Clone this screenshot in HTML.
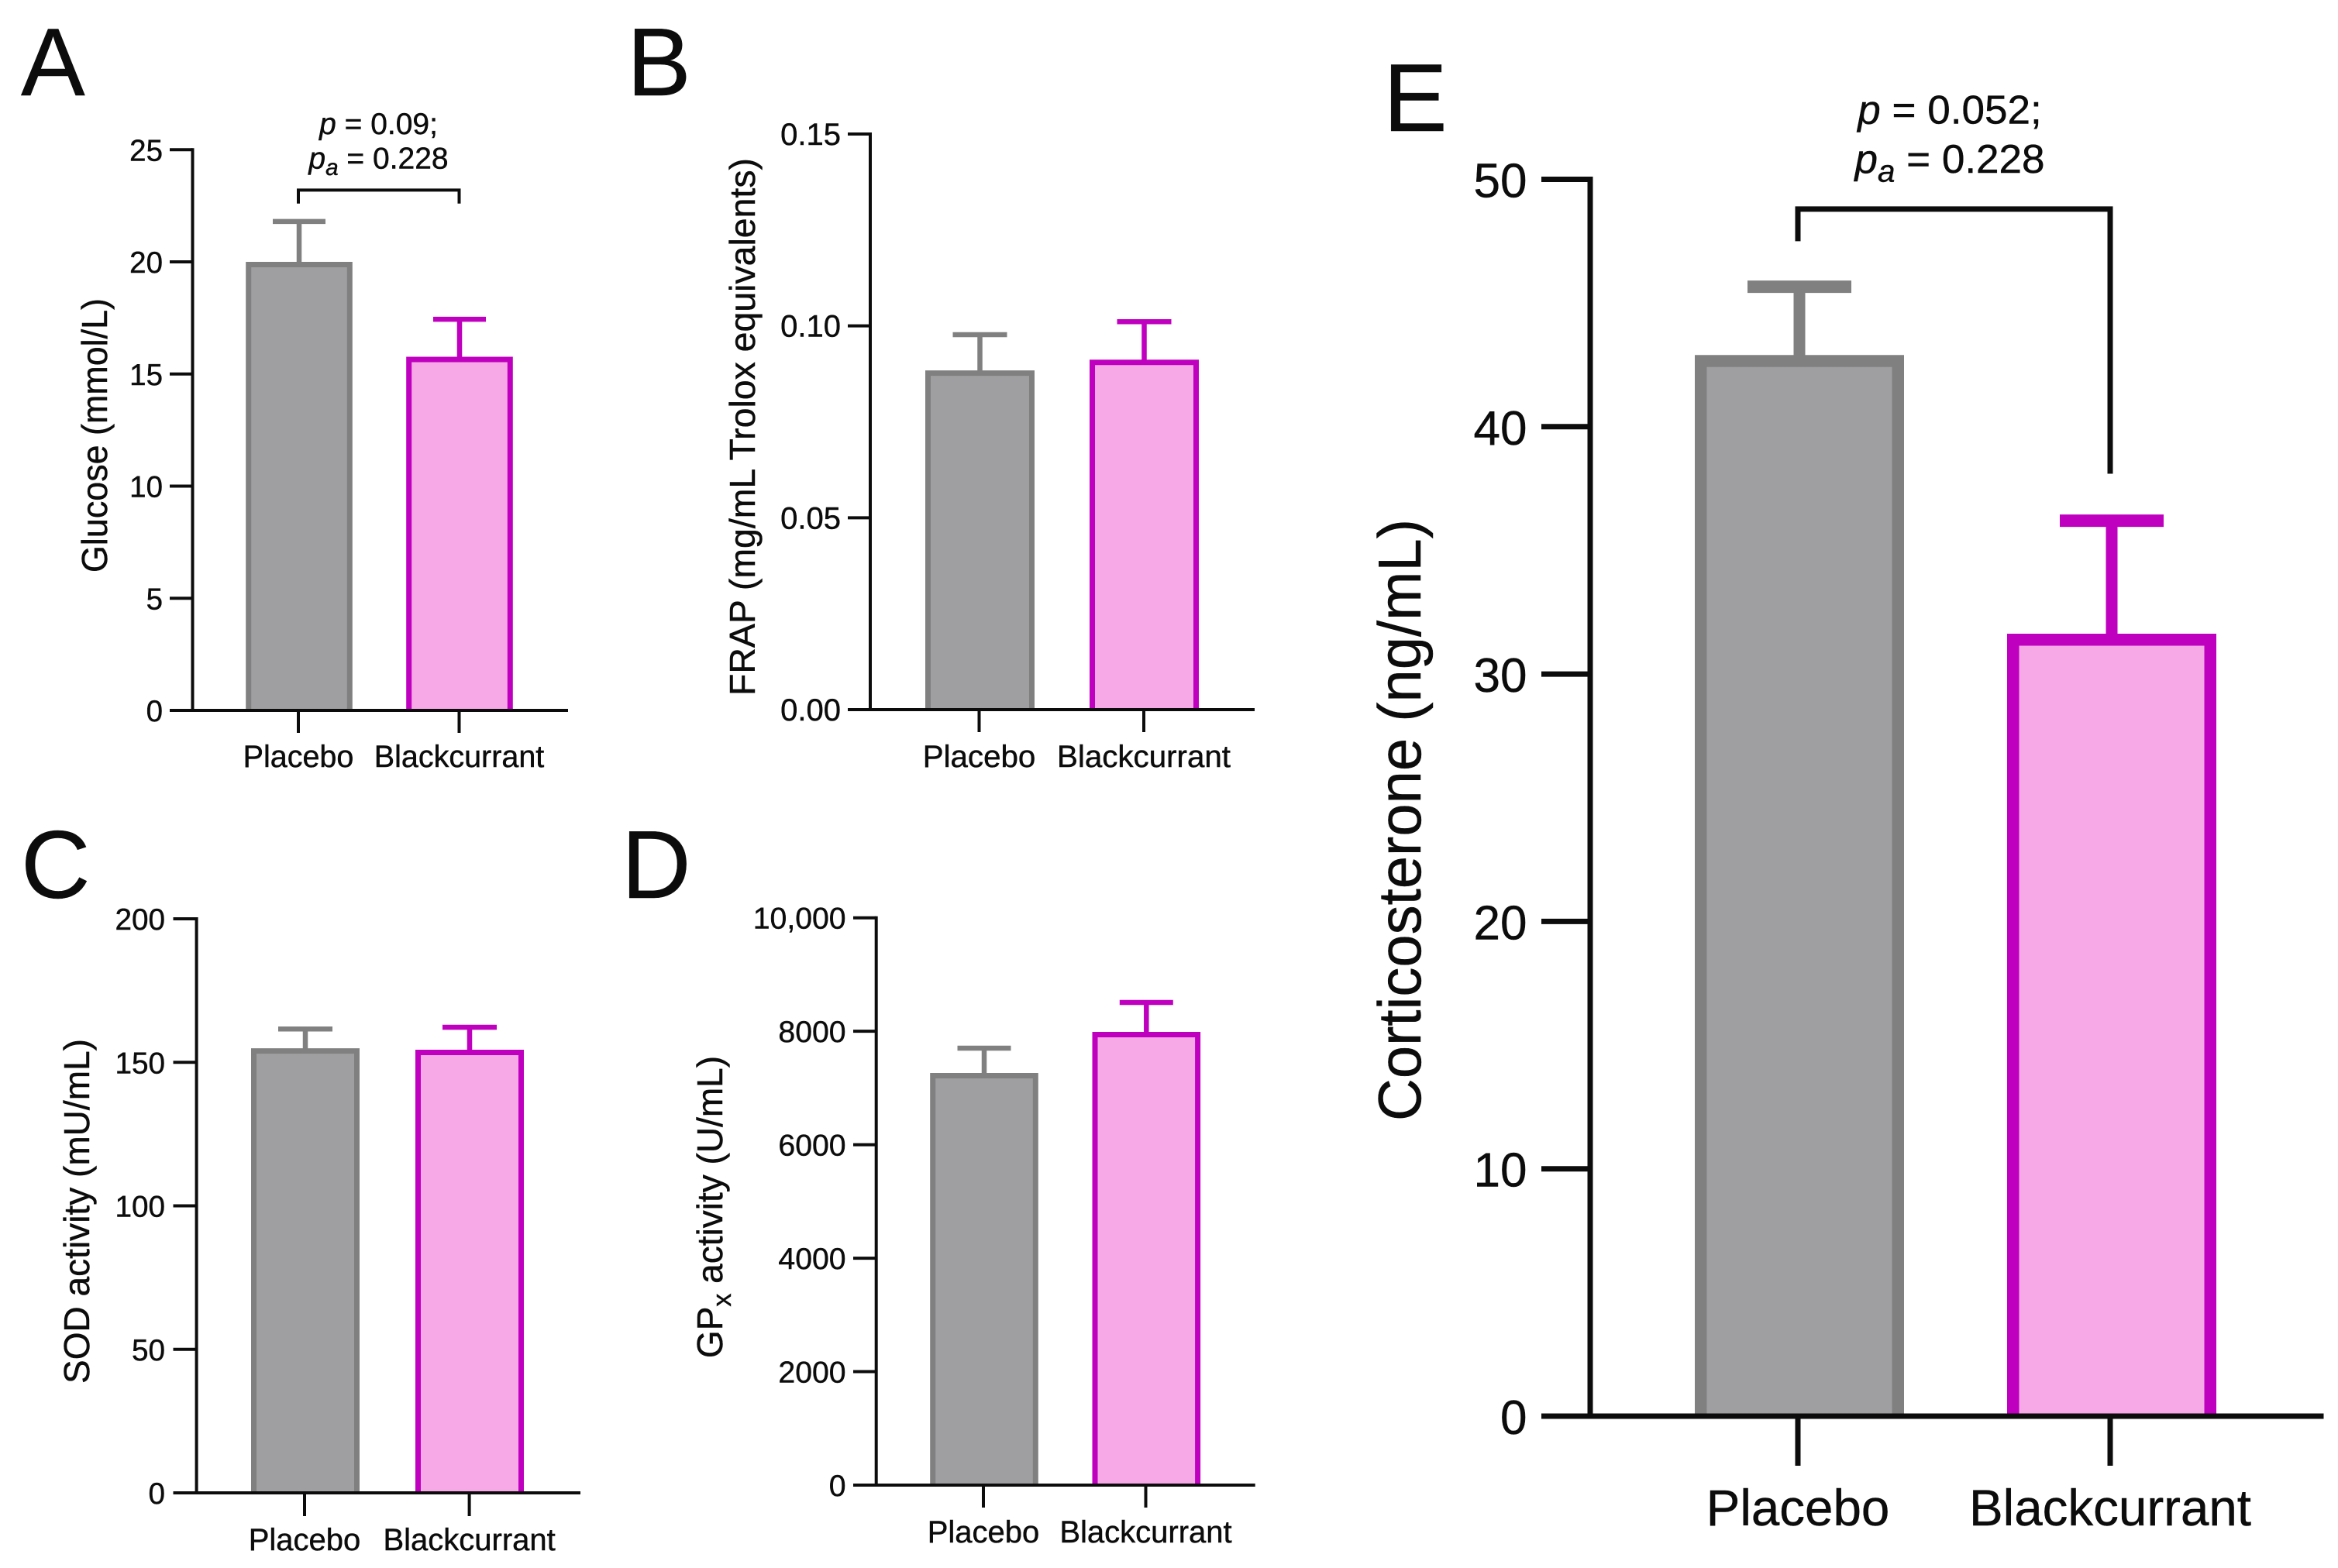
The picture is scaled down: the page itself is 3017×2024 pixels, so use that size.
<!DOCTYPE html>
<html lang="en">
<head>
<meta charset="utf-8">
<title>Blackcurrant vs placebo biomarker bar charts</title>
<style>
html,body{margin:0;padding:0;background:#fff;}
svg{display:block;}
text{font-family:"Liberation Sans",Arial,sans-serif;fill:#0c0c0c;stroke:#0c0c0c;stroke-width:.45px;}
</style>
</head>
<body>
<svg id="figure" xmlns="http://www.w3.org/2000/svg" width="3017" height="2024" viewBox="0 0 3017 2024"></svg>
<script>
// ---- data ----
const categories = ['Placebo', 'Blackcurrant'];

const glucoseMeans = [20.0, 15.77];
const glucoseUpper = [21.8, 17.44];
const glucoseTicks = [0, 5, 10, 15, 20, 25];
const glucoseTickLabels = ['0', '5', '10', '15', '20', '25'];

const frapMeans = [0.0884, 0.0912];
const frapUpper = [0.0977, 0.1011];
const frapTicks = [0, 0.05, 0.10, 0.15];
const frapTickLabels = ['0.00', '0.05', '0.10', '0.15'];

const sodMeans = [154.9, 154.4];
const sodUpper = [161.6, 162.2];
const sodTicks = [0, 50, 100, 150, 200];
const sodTickLabels = ['0', '50', '100', '150', '200'];

const gpxMeans = [7265, 7989];
const gpxUpper = [7702, 8507];
const gpxTicks = [0, 2000, 4000, 6000, 8000, 10000];
const gpxTickLabels = ['0', '2000', '4000', '6000', '8000', '10,000'];

const corticoMeans = [42.9, 31.63];
const corticoUpper = [45.66, 36.2];
const corticoTicks = [0, 10, 20, 30, 40, 50];
const corticoTickLabels = ['0', '10', '20', '30', '40', '50'];

// ---- styles ----
const NS = 'http://www.w3.org/2000/svg';
const svg = document.getElementById('figure');
const fills = ['#9f9fa1', '#f6a9e6'];
const strokes = ['#808080', '#bf00bf'];
const ink = '#0c0c0c';

function line(parent, x1, y1, x2, y2, color, width, name) {
  const el = document.createElementNS(NS, 'line');
  el.setAttribute('x1', x1);
  el.setAttribute('y1', y1);
  el.setAttribute('x2', x2);
  el.setAttribute('y2', y2);
  el.setAttribute('stroke', color);
  el.setAttribute('stroke-width', width);
  
  
  parent.appendChild(el);
  return el;
}

function label(parent, x, y, str, size, anchor, name) {
  const el = document.createElementNS(NS, 'text');
  el.setAttribute('x', x);
  el.setAttribute('y', y);
  el.setAttribute('font-size', size);
  el.setAttribute('text-anchor', anchor);
  
  
  el.textContent = str;
  parent.appendChild(el);
  return el;
}

function rotatedLabel(parent, x, y, str, size, length, name) {
  const el = label(parent, 0, 0, str, size, 'middle', name);
  el.setAttribute('transform', 'translate(' + x + ' ' + y + ') rotate(-90)');
  if (length) {
    el.setAttribute('textLength', length);
    el.setAttribute('lengthAdjust', 'spacingAndGlyphs');
  }
  return el;
}

function span(parent, str, italic, size, dy) {
  const el = document.createElementNS(NS, 'tspan');
  if (italic) el.setAttribute('font-style', 'italic');
  if (size) el.setAttribute('font-size', size);
  if (dy) el.setAttribute('dy', dy);
  el.textContent = str;
  parent.appendChild(el);
  return el;
}

function drawPanel(p, means, upper, ticks, tickLabels) {
  const g = document.createElementNS(NS, 'g');
  
  
  svg.appendChild(g);

  const yMax = ticks[ticks.length - 1];
  const y = v => p.y0 - (v / yMax) * (p.y0 - p.yTop);
  const x = i => p.c0 + i * p.step;

  categories.forEach((cat, i) => {
    const key = cat.toLowerCase();
    const top = y(means[i]);
    const up = y(upper[i]);
    line(g, x(i), up, x(i), top + 2, strokes[i], p.stem, 'error-stem-' + key);
    line(g, x(i) - p.cap / 2, up, x(i) + p.cap / 2, up, strokes[i], p.capT, 'error-cap-' + key);
    const bar = document.createElementNS(NS, 'path');
    const left = x(i) - p.barW / 2 + p.bw / 2;
    const right = x(i) + p.barW / 2 - p.bw / 2;
    bar.setAttribute('d', 'M' + left + ' ' + p.y0 + 'V' + (top + p.bw / 2) + 'H' + right + 'V' + p.y0);
    bar.setAttribute('fill', fills[i]);
    bar.setAttribute('stroke', strokes[i]);
    bar.setAttribute('stroke-width', p.bw);
    
    
    g.appendChild(bar);
    line(g, p.tickX[i], p.y0, p.tickX[i], p.tickBottom, ink, p.axisW, 'x-tick-' + key);
    label(g, p.tickX[i], p.catY, cat, p.catSize, 'middle', 'x-label-' + key);
  });

  line(g, p.axisX, p.yTop - p.axisW / 2, p.axisX, p.y0 + p.axisW / 2, ink, p.axisW, 'y-axis');
  line(g, p.tickLeft, p.y0, p.xRight, p.y0, ink, p.axisW, 'x-axis');
  ticks.forEach((t, i) => {
    line(g, p.tickLeft, y(t), p.axisX, y(t), ink, p.axisW, 'y-tick-' + tickLabels[i]);
    label(g, p.labelRight, y(t) + p.tickDy, tickLabels[i], p.tickSize, 'end', 'y-tick-label-' + tickLabels[i]);
  });
  label(g, p.letterX, p.letterY, p.id, 124, 'start', 'panel-letter-' + p.id);
  return { g: g, x: x, y: y };
}

function drawBracket(chart, p, top, leftEnd, rightEnd) {
  const el = document.createElementNS(NS, 'path');
  el.setAttribute('d', 'M' + p.tickX[0] + ' ' + chart.y(leftEnd) + 'V' + chart.y(top) + 'H' + p.tickX[1] + 'V' + chart.y(rightEnd));
  el.setAttribute('fill', 'none');
  el.setAttribute('stroke', ink);
  el.setAttribute('stroke-width', p.axisW);
  
  
  chart.g.appendChild(el);
}

function drawPValues(chart, cx, y1, y2, size, first, second, sx) {
  const a = label(chart.g, 0, 0, '', size, 'middle', 'p-value');
  a.setAttribute('transform', 'translate(' + cx + ' ' + y1 + ') scale(' + sx + ' 1)');
  span(a, 'p', true);
  span(a, first, false);
  const b = label(chart.g, 0, 0, '', size, 'middle', 'adjusted-p-value');
  b.setAttribute('transform', 'translate(' + cx + ' ' + y2 + ') scale(' + sx + ' 1)');
  span(b, 'p', true);
  span(b, 'a', true, size * 0.76, size * 0.22);
  span(b, second, false, size, -size * 0.22);
}

// ---- layouts ----
const layoutA = { id:'A', y0:917, yTop:193.3, c0:386, step:207, barW:137.6, bw:7, cap:68, capT:6.5, stem:6.5,
  axisX:248.5, axisW:4, tickLeft:219, xRight:733, tickX:[385,592.5], tickBottom:946, catY:990, catSize:39.5,
  labelRight:210, tickDy:14, tickSize:38.5, letterX:27, letterY:123 };
const layoutB = { id:'B', y0:916, yTop:173, c0:1264.5, step:212, barW:141, bw:7, cap:70, capT:6.5, stem:6.5,
  axisX:1123, axisW:4, tickLeft:1094, xRight:1619, tickX:[1263.5,1476], tickBottom:945, catY:990, catSize:40.3,
  labelRight:1085, tickDy:14, tickSize:40, letterX:809, letterY:123 };
const layoutC = { id:'C', y0:1927, yTop:1186, c0:394, step:212, barW:140, bw:7, cap:70, capT:6.5, stem:6.5,
  axisX:253.6, axisW:4, tickLeft:223.5, xRight:749, tickX:[393,605.6], tickBottom:1957, catY:2001, catSize:40,
  labelRight:213, tickDy:14, tickSize:38.7, letterX:27, letterY:1159 };
const layoutD = { id:'D', y0:1917, yTop:1184.7, c0:1270, step:209.3, barW:139.6, bw:7, cap:69, capT:6.5, stem:6.5,
  axisX:1130.7, axisW:4, tickLeft:1101, xRight:1619.7, tickX:[1269,1478.5], tickBottom:1946, catY:1991, catSize:40,
  labelRight:1091.6, tickDy:14, tickSize:39.2, letterX:802, letterY:1159 };
const layoutE = { id:'E', y0:1828, yTop:231.5, c0:2322, step:403, barW:270, bw:15.5, cap:134, capT:16, stem:15,
  axisX:2052, axisW:7, tickLeft:1989, xRight:2998.5, tickX:[2320,2723], tickBottom:1892, catY:1969, catSize:65.5,
  labelRight:1970.5, tickDy:23, tickSize:62, letterX:1785, letterY:169 };

// ---- render ----
const chartA = drawPanel(layoutA, glucoseMeans, glucoseUpper, glucoseTicks, glucoseTickLabels);
rotatedLabel(chartA.g, 138, 562, 'Glucose (mmol/L)', 46, 354, 'y-axis-title');
drawBracket(chartA, layoutA, 23.2, 22.6, 22.6);
drawPValues(chartA, 488.5, 173, 217.5, 39, ' = 0.09;', ' = 0.228', 1);

const chartB = drawPanel(layoutB, frapMeans, frapUpper, frapTicks, frapTickLabels);
rotatedLabel(chartB.g, 974, 551, 'FRAP (mg/mL Trolox equivalents)', 46, 694, 'y-axis-title');

const chartC = drawPanel(layoutC, sodMeans, sodUpper, sodTicks, sodTickLabels);
rotatedLabel(chartC.g, 115, 1563.5, 'SOD activity (mU/mL)', 46, 445, 'y-axis-title');

const chartD = drawPanel(layoutD, gpxMeans, gpxUpper, gpxTicks, gpxTickLabels);
const gpxTitle = rotatedLabel(chartD.g, 932, 1558, '', 46, 0, 'y-axis-title');
span(gpxTitle, 'GP', false);
span(gpxTitle, 'x', false, 34, 11);
span(gpxTitle, ' activity (U/mL)', false, 46, -11);

const chartE = drawPanel(layoutE, corticoMeans, corticoUpper, corticoTicks, corticoTickLabels);
rotatedLabel(chartE.g, 1833, 1058.5, 'Corticosterone (ng/mL)', 78, 777, 'y-axis-title');
drawBracket(chartE, layoutE, 48.8, 47.5, 38.1);
drawPValues(chartE, 2516, 159.4, 223, 52, ' = 0.052;', ' = 0.228', 1.02);
</script>
</body>
</html>
